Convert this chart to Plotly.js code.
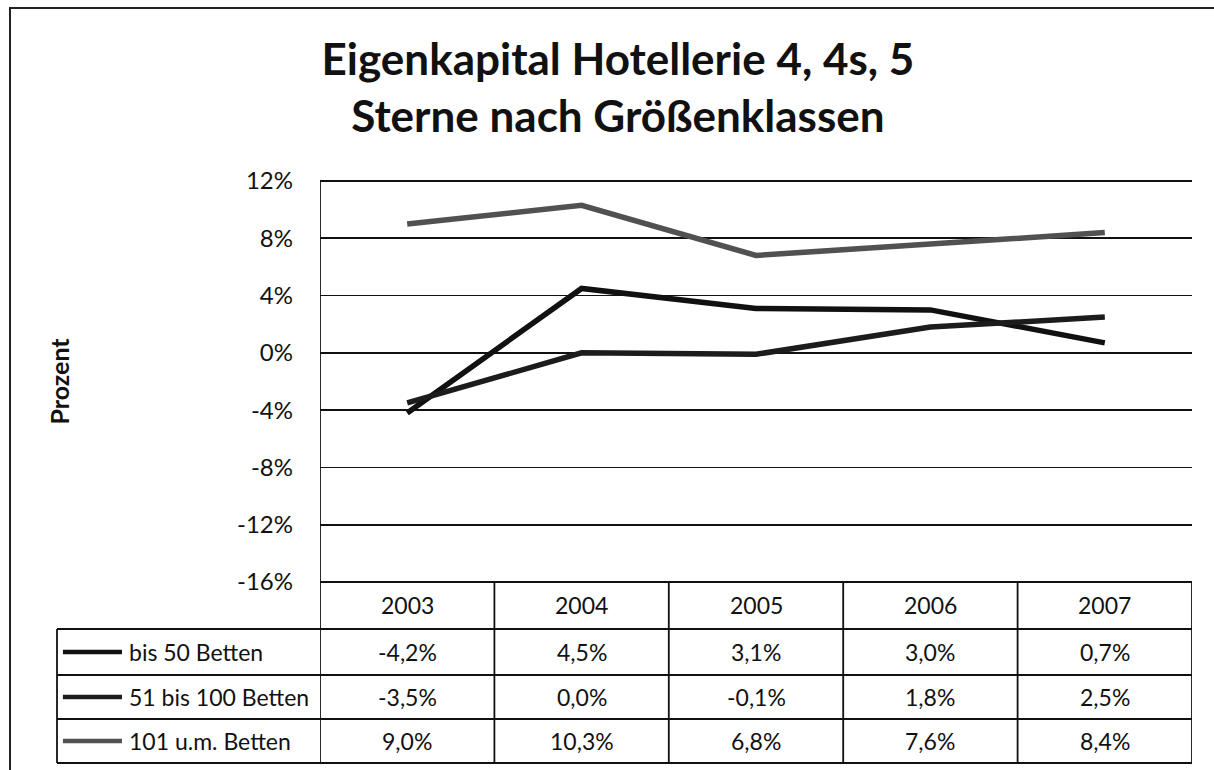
<!DOCTYPE html>
<html>
<head>
<meta charset="utf-8">
<script src="https://cdn.plot.ly/plotly-3.0.1.min.js"></script>
<style>
  html, body { margin: 0; padding: 0; background: #fff; }
  #chart { width: 1214px; height: 770px; }
</style>
</head>
<body>
<div id="chart"></div>
<script>
// ---- data ----
const years = ['2003', '2004', '2005', '2006', '2007'];
const seriesNames = ['bis 50 Betten', '51 bis 100 Betten', '101 u.m. Betten'];
const bis50 = [-4.2, 4.5, 3.1, 3.0, 0.7];
const bis100 = [-3.5, 0.0, -0.1, 1.8, 2.5];
const ab101 = [9.0, 10.3, 6.8, 7.6, 8.4];
const yTicks = [-16, -12, -8, -4, 0, 4, 8, 12];
const yTickLabels = ['-16%', '-12%', '-8%', '-4%', '0%', '4%', '8%', '12%'];

// ---- styles ----
const seriesValues = [bis50, bis100, ab101];
const seriesColors = ['#111111', '#1c1c1c', '#515151'];
const FONT = 'Lato, "Open Sans", sans-serif';
const lineW = 1.8;
const cellFont = { family: FONT, size: 23, color: '#111' };

const traces = seriesValues.map((vals, i) => ({
  type: 'scatter',
  mode: 'lines',
  x: years,
  y: vals,
  name: seriesNames[i],
  line: { color: seriesColors[i], width: 5.5 },
  hoverinfo: 'x+y'
}));

// table geometry (paper y)
const rowEdges = [0, -0.1172, -0.2319, -0.3416, -0.4514];
const leftCol = -0.3016;
const legX0 = -0.2948, legX1 = -0.2271, labX = -0.2215;

const shapes = [];
const annotations = [];

// outer frame (left + top)
shapes.push({ type: 'path', xref: 'paper', yref: 'paper',
  path: 'M -0.3555 -0.5 L -0.3555 1.4314 L 1.1 1.4314',
  line: { color: '#222', width: 2 } });

// column boundaries (category edges)
for (let k = 0; k <= years.length; k++) {
  shapes.push({ type: 'line', xref: 'x', yref: 'paper',
    x0: k - 0.5, x1: k - 0.5,
    y0: (k === 0) ? 1 : 0, y1: rowEdges[rowEdges.length - 1],
    line: { color: '#111', width: lineW } });
}
// horizontal lines
shapes.push({ type: 'line', xref: 'paper', yref: 'paper', x0: 0, x1: 1, y0: 0, y1: 0,
  line: { color: '#111', width: lineW } });
shapes.push({ type: 'line', xref: 'paper', yref: 'paper', x0: 0, x1: 1, y0: 1, y1: 1,
  line: { color: '#111', width: lineW } });
for (let r = 1; r < rowEdges.length; r++) {
  shapes.push({ type: 'line', xref: 'paper', yref: 'paper',
    x0: leftCol, x1: 1, y0: rowEdges[r], y1: rowEdges[r],
    line: { color: '#111', width: lineW } });
}
// left column vertical
shapes.push({ type: 'line', xref: 'paper', yref: 'paper',
  x0: leftCol, x1: leftCol, y0: rowEdges[1], y1: rowEdges[rowEdges.length - 1],
  line: { color: '#111', width: lineW } });

// header texts (x = category index on the x axis)
years.forEach((yr, j) => {
  annotations.push({ xref: 'x', yref: 'paper', x: j, y: (rowEdges[0] + rowEdges[1]) / 2,
    xanchor: 'center', yanchor: 'middle',
    text: yr, showarrow: false, font: cellFont });
});

function fmt(v) {
  return v.toFixed(1).replace('.', ',') + '%';
}

seriesValues.forEach((vals, i) => {
  const yc = (rowEdges[i + 1] + rowEdges[i + 2]) / 2;
  // legend key
  shapes.push({ type: 'line', xref: 'paper', yref: 'paper',
    x0: legX0, x1: legX1, y0: yc, y1: yc,
    line: { color: seriesColors[i], width: 4.5 } });
  annotations.push({ xref: 'paper', yref: 'paper', x: labX, y: yc,
    xanchor: 'left', yanchor: 'middle',
    text: seriesNames[i], showarrow: false, font: cellFont });
  vals.forEach((v, j) => {
    annotations.push({ xref: 'x', yref: 'paper', x: j, y: yc,
      xanchor: 'center', yanchor: 'middle',
      text: fmt(v), showarrow: false, font: cellFont });
  });
});

const layout = {
  width: 1214,
  height: 770,
  paper_bgcolor: '#fff',
  plot_bgcolor: '#fff',
  margin: { l: 320, r: 22, t: 181, b: 188 },
  showlegend: false,
  title: {
    text: 'Eigenkapital Hotellerie 4, 4s, 5<br>Sterne nach Größenklassen',
    font: { family: FONT, size: 44, color: '#111', weight: 'bold' },
    x: 0.509, xanchor: 'center',
    y: 0.903, yanchor: 'top'
  },
  xaxis: {
    type: 'category',
    range: [-0.5, 4.5],
    showticklabels: false,
    showgrid: false,
    zeroline: false,
    showline: false,
    ticks: ''
  },
  yaxis: {
    range: [-16, 12],
    tickvals: yTicks,
    ticktext: yTickLabels,
    showgrid: true,
    gridcolor: '#111',
    gridwidth: lineW,
    zeroline: false,
    showline: false,
    ticks: '',
    ticklabelstandoff: 26,
    tickfont: { family: FONT, size: 24, color: '#111' },
    title: { text: 'Prozent', standoff: 160, font: { family: FONT, size: 25, color: '#111', weight: 'bold' } }
  },
  shapes: shapes,
  annotations: annotations
};

Plotly.newPlot('chart', traces, layout, { displayModeBar: false, staticPlot: true });
</script>
</body>
</html>
